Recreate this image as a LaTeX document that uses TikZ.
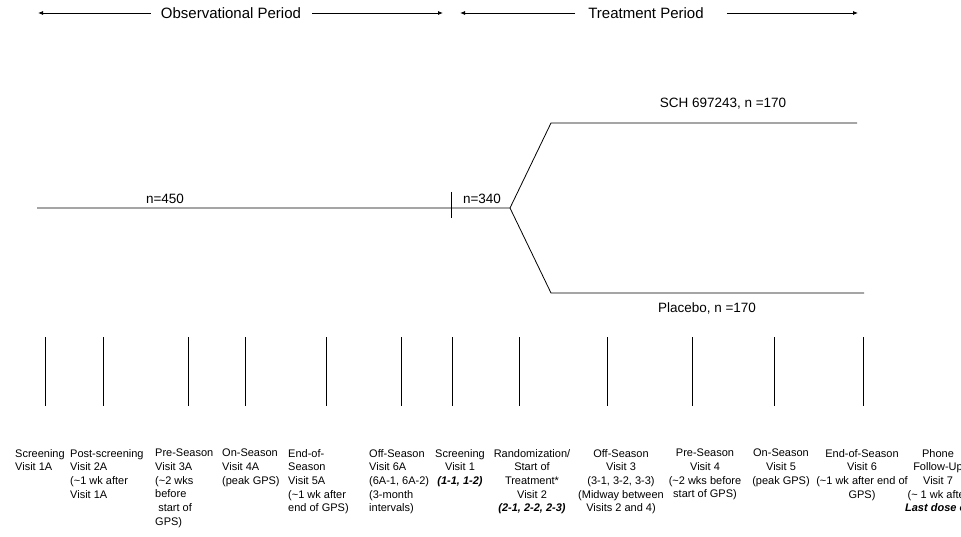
\documentclass[tikz,border=0pt]{standalone}
\usepackage{fontspec}
\setmainfont{Liberation Sans}
\usetikzlibrary{arrows.meta}
\tikzset{
	period/.style={font=\fontsize{15}{18}\selectfont, inner sep=0pt},
	count/.style={font=\fontsize{13.5}{16}\selectfont, inner sep=0pt},
	visit/.style={font=\fontsize{11}{13.7}\selectfont, inner sep=0pt, anchor=north, align=center},
	visitleft/.style={visit, anchor=north west, align=left},
	armline/.style={line width=0.8pt},
	visitline/.style={line width=0.7pt},
	spanarrow/.style={line width=0.8pt, -{Latex[length=5pt,width=4pt]}}
}
\begin{document}
\begin{tikzpicture}[x=1pt, y=-1pt]
	\useasboundingbox (0,0) rectangle (961,537);

	\node[period] (obs) at (231,13) {Observational Period};
	\node[period] (trt) at (646,13) {Treatment Period};
	\coordinate (obsL) at (38,13);
	\coordinate (obsR) at (443,13);
	\coordinate (trtL) at (460,13);
	\coordinate (trtR) at (858,13);
	\draw[spanarrow] ([xshift=-10pt]obs.west) -- (obsL);
	\draw[spanarrow] ([xshift=11pt]obs.east) -- (obsR);
	\draw[spanarrow] ([xshift=-13pt]trt.west) -- (trtL);
	\draw[spanarrow] ([xshift=23pt]trt.east) -- (trtR);

	\coordinate (entry) at (37,208);
	\coordinate (screen) at (451,208);
	\coordinate (split) at (510,208);
	\coordinate (armA) at (551,123);
	\coordinate (armAend) at (857,123);
	\coordinate (armB) at (551,293);
	\coordinate (armBend) at (864,293);
	\draw[armline] (entry) -- (split) -- (armA) -- (armAend);
	\draw[armline] (split) -- (armB) -- (armBend);
	\draw[armline] ([yshift=16pt]screen) -- ([yshift=-10pt]screen);

	\node[count] (n450) at (165,199) {n=450};
	\node[count] (n340) at (482,199) {n=340};
	\node[count] (active) at (723,104) {SCH 697243, n =170};
	\node[count] (placebo) at (707,308) {Placebo, n =170};

	\foreach \x [count=\i] in {45,103,188,245,326,401,452,519,607,692,774,863}{
		\coordinate (top\i) at (\x,337);
		\coordinate (bot\i) at (\x,406);
		\draw[visitline] (top\i) -- (bot\i);
	}

	\node[visitleft] (v1A) at (15,449) {Screening\\Visit 1A};
	\node[visitleft] (v2A) at (70,449) {Post-screening\\Visit 2A\\(\textasciitilde1 wk after\\Visit 1A};
	\node[visitleft] (v3A) at (155,449) {Pre-Season\\Visit 3A\\(\textasciitilde2 wks\\before\\\ start of\\GPS)};
	\node[visitleft] (v4A) at (222,449) {On-Season\\Visit 4A\\(peak GPS)};
	\node[visitleft] (v5A) at (288,449) {End-of-\\Season\\Visit 5A\\(\textasciitilde1 wk after\\end of GPS)};
	\node[visitleft] (v6A) at (369,449) {Off-Season\\Visit 6A\\(6A-1, 6A-2)\\(3-month\\intervals)};
	\node[visit] (v1) at (460,449) {Screening\\Visit 1\\\textbf{\textit{(1-1, 1-2)}}};
	\node[visit] (v2) at (532,449) {Randomization/\\Start of\\Treatment*\\Visit 2\\\textbf{\textit{(2-1, 2-2, 2-3)}}};
	\node[visit] (v3) at (621,449) {Off-Season\\Visit 3\\(3-1, 3-2, 3-3)\\(Midway between\\Visits 2 and 4)};
	\node[visit] (v4) at (705,449) {Pre-Season\\Visit 4\\(\textasciitilde2 wks before\\start of GPS)};
	\node[visit] (v5) at (781,449) {On-Season\\Visit 5\\(peak GPS)};
	\node[visit] (v6) at (862,449) {End-of-Season\\Visit 6\\(\textasciitilde1 wk after end of\\GPS)};
	\node[visit] (v7) at (938,449) {Phone\\Follow-Up\\Visit 7\\(\textasciitilde{} 1 wk after\\\textbf{\textit{Last dose of}}};
\end{tikzpicture}
\end{document}
